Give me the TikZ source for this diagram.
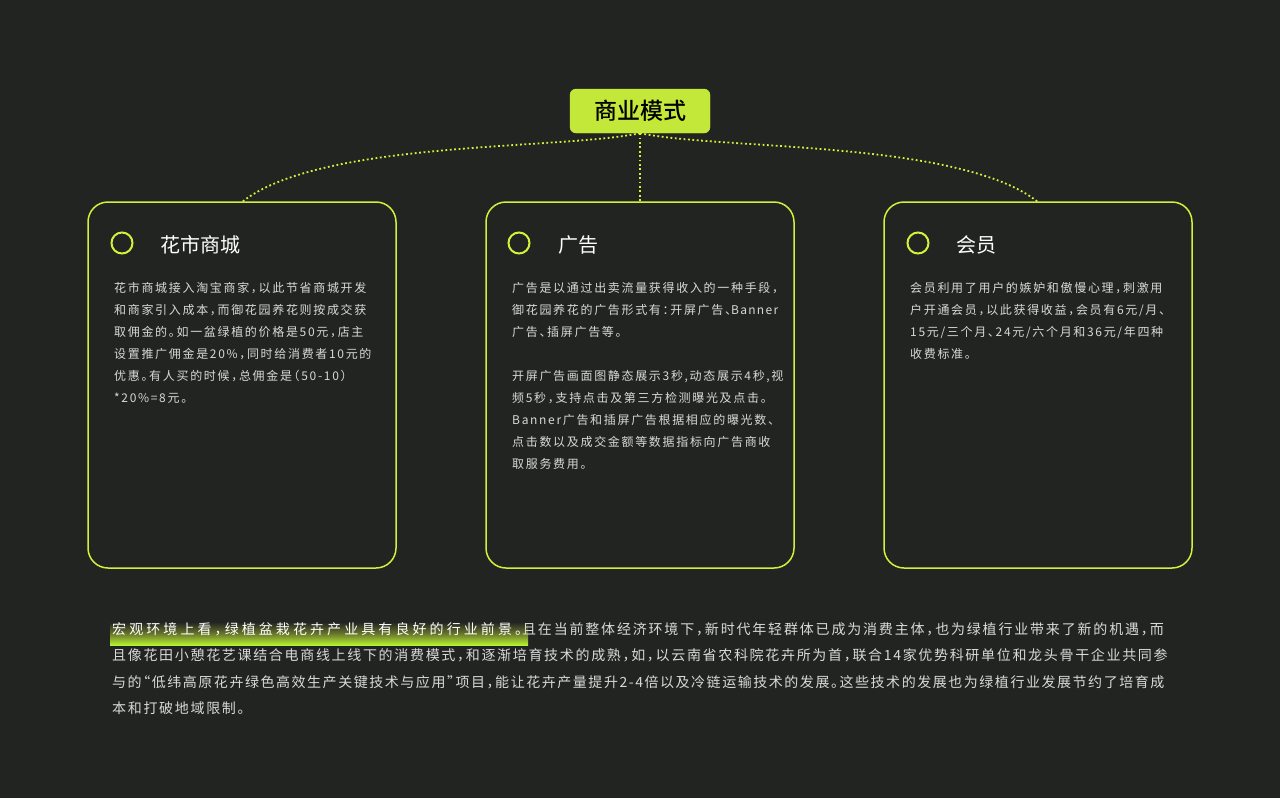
\documentclass[tikz,border=0pt]{standalone}
\usepackage{fontspec}
\setmainfont{Noto Sans CJK SC}
\newfontfamily\spaced[LetterSpace=14,RawFeature=+halt]{Noto Sans CJK SC}
\newfontfamily\spA[LetterSpace=22,RawFeature=+halt]{Noto Sans CJK SC}
\newfontfamily\spB[LetterSpace=13,RawFeature=+halt]{Noto Sans CJK SC}
\newfontfamily\spC[LetterSpace=12,RawFeature=+halt]{Noto Sans CJK SC}
\newfontfamily\spD[LetterSpace=11,RawFeature=+halt]{Noto Sans CJK SC}
\newfontfamily\medf{Noto Sans CJK SC Medium}
\usetikzlibrary{positioning}
\definecolor{bg}{HTML}{222422}
\definecolor{lime}{HTML}{D4F03A}
\definecolor{tbox}{HTML}{C3E83A}
\definecolor{txt}{HTML}{D8D8D8}
\tikzset{x=1pt,y=-1pt,
 card/.style={draw=lime,line width=1.5pt,rounded corners=20pt},
 ring/.style={draw=lime,line width=2pt,circle,minimum size=21pt,inner sep=0pt},
 head/.style={anchor=west,text=white,font=\fontsize{20}{24}\selectfont,inner sep=0pt},
 body/.style={anchor=north west,text=txt,align=left,font=\spaced\fontsize{12}{22}\selectfont,inner sep=0pt},
 dots/.style={draw=lime,line width=1.8pt,dash pattern=on 1.8pt off 2.6pt}}
\begin{document}
\begin{tikzpicture}
\fill[bg] (0,0) rectangle (1280,798);
\useasboundingbox (0,0) rectangle (1280,798);
\node[fill=tbox,draw=lime,rounded corners=6pt,minimum width=140pt,minimum height=44pt,inner sep=0pt,font=\medf\fontsize{23}{26}\selectfont,text=black] (title) at (640,111) {商业模式};
\coordinate (c1) at (242,202); \coordinate (c2) at (640,202); \coordinate (c3) at (1038,202);
\draw[card] (88,202) rectangle (396,568);
\draw[card] (486,202) rectangle (794,568);
\draw[card] (884,202) rectangle (1192,568);
\draw[dots] (title.south) -- (c2);
\draw[dots] (title.south) .. controls (560,150) and (320,140) .. (c1);
\draw[dots] (title.south) .. controls (720,150) and (960,140) .. (c3);
\node[ring] (r1) at (122,243) {}; \node[head] (h1) at (160,245) {花市商城};
\node[ring] (r2) at (519,243) {}; \node[head] (h2) at (558,245) {广告};
\node[ring] (r3) at (918,243) {}; \node[head] (h3) at (956,245) {会员};
\node[body] (b1) at (114,282) {花市商城接入淘宝商家，以此节省商城开发\\和商家引入成本，而御花园养花则按成交获\\取佣金的。如一盆绿植的价格是50元，店主\\设置推广佣金是20\%，同时给消费者10元的\\优惠。有人买的时候，总佣金是（50-10）\\*20\%=8元。};
\node[body] (b2) at (512,282) {广告是以通过出卖流量获得收入的一种手段，\\御花园养花的广告形式有：开屏广告、{\spD Banner}\\广告、插屏广告等。\\[22pt]开屏广告画面图静态展示3秒,动态展示4秒,视\\频5秒，支持点击及第三方检测曝光及点击。\\Banner广告和插屏广告根据相应的曝光数、\\点击数以及成交金额等数据指标向广告商收\\取服务费用。};
\node[body] (b3) at (910,282) {会员利用了用户的嫉妒和傲慢心理，刺激用\\户开通会员，以此获得收益，会员有6元/月、\\15元/三个月、24元/六个月和36元/年四种\\收费标准。};
\shade[top color=bg,bottom color=lime!85!green,middle color=lime!40!bg] (110,622) rectangle (528,645);
\node[anchor=north west,inner sep=0pt,text=txt,align=left,font=\fontsize{14}{26.5}\selectfont] (bt) at (112,622) {{\spA\color{white}宏观环境上看，绿植盆栽花卉产业具有良好的行业前景。}{\spB 且在当前整体经济环境下，新时代年轻群体已成为消费主体，也为绿植行业带来了新的机遇，而}\\{\spC 且像花田小憩花艺课结合电商线上线下的消费模式，和逐渐培育技术的成熟，如，以云南省农科院花卉所为首，联合14家优势科研单位和龙头骨干企业共同参}\\{\spD 与的“低纬高原花卉绿色高效生产关键技术与应用”项目，能让花卉产量提升2-4倍以及冷链运输技术的发展。这些技术的发展也为绿植行业发展节约了培育成}\\{\spC 本和打破地域限制。}};
\end{tikzpicture}
\end{document}
